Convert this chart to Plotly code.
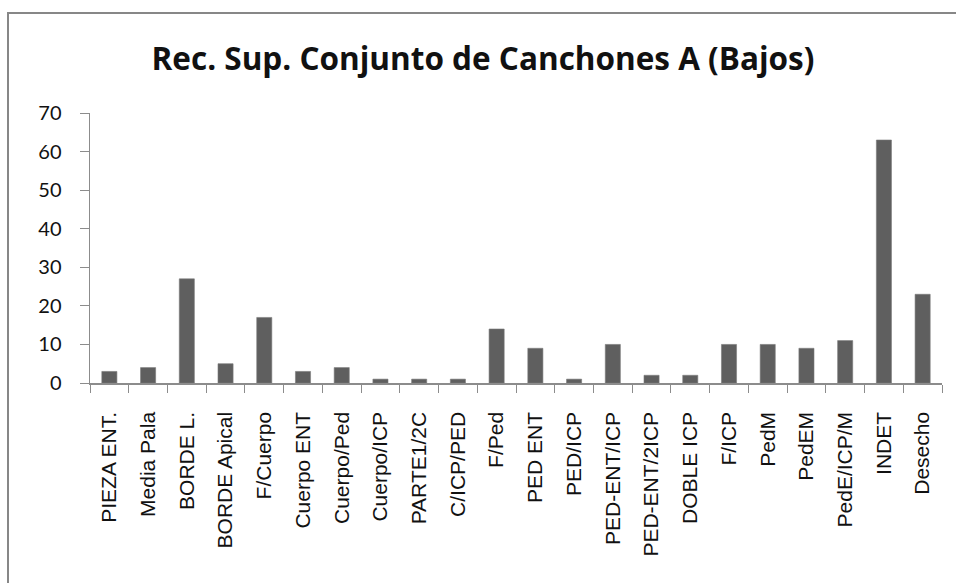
import plotly.graph_objects as go

categories = ["PIEZA ENT.", "Media Pala", "BORDE L.", "BORDE Apical", "F/Cuerpo",
              "Cuerpo ENT", "Cuerpo/Ped", "Cuerpo/ICP", "PARTE1/2C", "C/ICP/PED",
              "F/Ped", "PED ENT", "PED/ICP", "PED-ENT/ICP", "PED-ENT/2ICP",
              "DOBLE ICP", "F/ICP", "PedM", "PedEM", "PedE/ICP/M", "INDET", "Desecho"]
values = [3, 4, 27, 5, 17, 3, 4, 1, 1, 1, 14, 9, 1, 10, 2, 2, 10, 10, 9, 11, 63, 23]
y_ticks = [0, 10, 20, 30, 40, 50, 60, 70]
title_text = "Rec. Sup. Conjunto de Canchones A (Bajos)"

W, H = 956, 583
L, R, T, B = 90, 14, 113, 200

fig = go.Figure(go.Bar(
    x=categories, y=values,
    marker=dict(color="#5f5f5f", line=dict(color="#7a7a7a", width=0.6)),
))

fig.update_layout(
    width=W, height=H,
    margin=dict(l=L, r=R, t=T, b=B),
    paper_bgcolor="white", plot_bgcolor="white",
    bargap=0.61,
    showlegend=False,
    title=dict(text="<b>" + title_text + "</b>", x=483 / W, xref="container", xanchor="center",
               y=1 - 59 / H, yref="container", yanchor="middle",
               font=dict(family="Open Sans", size=31.5, color="#111111")),
)

fig.update_xaxes(
    type="category", tickangle=-90, tickson="boundaries",
    ticks="outside", ticklen=8, tickcolor="#8c8c8c", tickwidth=1,
    showline=True, linecolor="#8c8c8c", linewidth=1.5,
    showgrid=False, ticklabelstandoff=19,
    tickfont=dict(family="Liberation Sans", size=21, color="#111111"),
)
fig.update_yaxes(
    range=[0, 70], tickvals=y_ticks,
    ticks="outside", ticklen=9, tickcolor="#8c8c8c", tickwidth=1,
    showline=True, linecolor="#8c8c8c", linewidth=1.5,
    showgrid=False, zeroline=False, ticklabelstandoff=14,
    tickfont=dict(family="Lato", size=20, color="#111111"),
)

pw = W - L - R
ph = H - T - B
fig.add_shape(type="rect", xref="paper", yref="paper",
              x0=(8 - L) / pw, x1=1.2, y0=-1.5, y1=(H - B - 13) / ph,
              line=dict(color="#878787", width=2), fillcolor="rgba(0,0,0,0)", layer="below")

fig.write_html("out.html",
               config={"displayModeBar": False, "staticPlot": True},
               post_script="document.body.style.margin='0';document.body.style.overflow='hidden';")
